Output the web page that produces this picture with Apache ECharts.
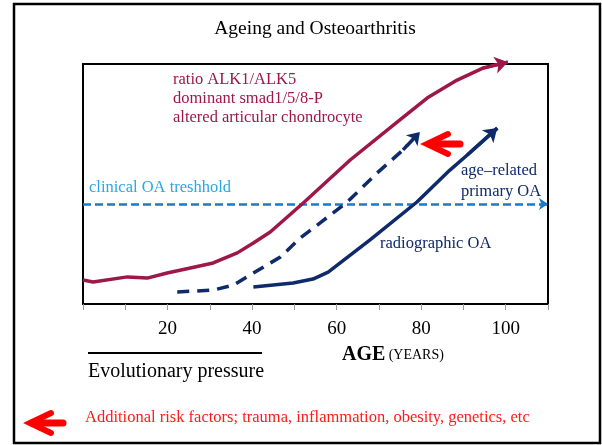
<!DOCTYPE html>
<html>
<head>
<meta charset="utf-8">
<script src="https://cdn.jsdelivr.net/npm/echarts@6/dist/echarts.min.js"></script>
<style>
html,body{margin:0;padding:0;background:#fff}
#chart{width:602px;height:445px}
</style>
</head>
<body>
<div id="chart"></div>
<script>

// data (age in years, level 0-100 of plot height)

const tickAges = [20,40,60,80,100]

const alkAge = [0,2.4,10.5,15.2,19.9,25.4,30.8,36.5,40.3,44.3,52.1,63.2,74.3,81.4,88.5,94.6,100.5]
const alkLevel = [10,9.2,11.3,10.8,12.9,15,17.1,21.3,25.4,30,42.1,60,75.8,85.8,93.3,98.3,100.8]

const earlyAge = [22.3,30.8,35.6,40.3,46.7,51.4,56.1,62.5,69.6,75.7,79.7]
const earlyLevel = [5,5.8,7.9,12.9,19.6,27.5,33.8,42.5,54.6,64.2,71.7]

const radioAge = [40.3,49.7,54.4,58,67.9,79,86.8,90.9,98]
const radioLevel = [7.1,8.75,10.4,13.3,26.7,42.5,55.8,62.1,73.3]

const thresholdAge = [0,110]
const thresholdLevel = [41.7,41.7]

const SERIF = "'Liberation Serif','Times New Roman',serif"
const MAROON = "#9E1749"
const NAVY = "#0E2A6A"
const THRESH = "#1E78C8"

function coords(xs, ys){
return xs.map((x,i) => [x, ys[i]])
}

// last two points of a curve, used to carry the arrow head
function lastSeg(xs, ys){
const n = xs.length
return [[xs[n-2],ys[n-2]],[xs[n-1],ys[n-1]]]
}

function curve(name, xs, ys, color, type){
return {
name:name,
type:"lines",
coordinateSystem:"cartesian2d",
polyline:true,
clip:false,
lineStyle:{color:color,width:3.5,type:type,opacity:1,join:"round",cap:"butt"},
data:[{coords:coords(xs,ys)}]
}
}

function head(xs, ys, color, size, type){
return {
type:"lines",
coordinateSystem:"cartesian2d",
clip:false,
symbol:["none","arrow"],
symbolSize:size,
lineStyle:{color:color,width:3.5,type:type,opacity:1,curveness:0},
data:[{coords:lastSeg(xs,ys)}]
}
}

const chart = echarts.init(document.getElementById("chart"))

/* red chevron arrow, drawn as annotation */
function chevron(x, y){
return {
type:"polyline",
shape:{points:[[x+21,y-10],[x,y],[x+21,y+10]]},
style:{stroke:"#ff0000",lineWidth:6,fill:null,lineCap:"round",lineJoin:"miter"},
z:10
}
}
function shaft(x, y){
return {
type:"line",
shape:{x1:x+2,y1:y,x2:x+33,y2:y},
style:{stroke:"#ff0000",lineWidth:7,lineCap:"round"},
z:10
}
}

chart.setOption({

animation:false,

grid:{
left:83,top:64,right:54,bottom:141,
show:true,borderColor:"#000",borderWidth:2
},

xAxis:{
type:"value",
min:0,max:110,interval:10,
axisLine:{show:true,lineStyle:{color:"#000",width:2}},
axisTick:{show:true,length:6,lineStyle:{color:"#999",width:1}},
splitLine:{show:false},
axisLabel:{
margin:16,
fontFamily:SERIF,fontSize:19,color:"#000",
formatter:v => tickAges.includes(v) ? String(v) : ""
}
},

yAxis:{
type:"value",min:0,max:100,
show:false,
splitLine:{show:false}
},

series:[
{
name:"threshold",
type:"lines",
coordinateSystem:"cartesian2d",
clip:false,
symbol:["none","arrow"],
symbolSize:9,
lineStyle:{color:THRESH,width:2.5,type:[8,4],opacity:1},
data:[{coords:coords(thresholdAge,thresholdLevel)}]
},
curve("ALK1/ALK5", alkAge, alkLevel, MAROON, "solid"),
head(alkAge, alkLevel, MAROON, 13, "solid"),
curve("age-related primary OA", earlyAge, earlyLevel, NAVY, [12,8]),
head(earlyAge, earlyLevel, NAVY, 12, [6,10]),
curve("radiographic OA", radioAge, radioLevel, NAVY, "solid"),
head(radioAge, radioLevel, NAVY, 13, "solid")
],

graphic:[
{
type:"rect",
shape:{x:14,y:4,width:586,height:439},
style:{stroke:"#000",lineWidth:2.5,fill:null},
z:-1
},
{
type:"text",x:315,y:29,
style:{text:"Ageing and Osteoarthritis",font:"19.5px "+SERIF,fill:"#000",align:"center",verticalAlign:"middle"}
},
{
type:"text",x:173,y:80,
style:{text:"ratio ALK1/ALK5",font:"16.5px "+SERIF,fill:MAROON,verticalAlign:"middle"}
},
{
type:"text",x:173,y:99,
style:{text:"dominant smad1/5/8-P",font:"16.5px "+SERIF,fill:MAROON,verticalAlign:"middle"}
},
{
type:"text",x:173,y:118,
style:{text:"altered articular chondrocyte",font:"16.5px "+SERIF,fill:MAROON,verticalAlign:"middle"}
},
{
type:"text",x:89,y:188,
style:{text:"clinical OA treshhold",font:"16.5px "+SERIF,fill:"#27A7E3",verticalAlign:"middle"}
},
{
type:"text",x:461,y:171,
style:{text:"age\u2013related",font:"16.5px "+SERIF,fill:NAVY,verticalAlign:"middle"}
},
{
type:"text",x:461,y:192,
style:{text:"primary OA",font:"16.5px "+SERIF,fill:NAVY,verticalAlign:"middle"}
},
{
type:"text",x:380,y:244,
style:{text:"radiographic OA",font:"16.5px "+SERIF,fill:NAVY,verticalAlign:"middle"}
},
{
type:"text",x:342,y:355,
style:{
text:"{a|AGE} {b|(YEARS)}",
verticalAlign:"middle",
rich:{
a:{font:"bold 20px "+SERIF,fill:"#000"},
b:{font:"14px "+SERIF,fill:"#000"}
}
}
},
{
type:"line",
shape:{x1:88,y1:353,x2:262,y2:353},
style:{stroke:"#000",lineWidth:2}
},
{
type:"text",x:88,y:372,
style:{text:"Evolutionary pressure",font:"20px "+SERIF,fill:"#000",verticalAlign:"middle"}
},
{
type:"text",x:85,y:418,
style:{text:"Additional risk factors; trauma, inflammation, obesity, genetics, etc",font:"16.5px "+SERIF,fill:"#ff1a1a",verticalAlign:"middle"}
},
chevron(427,144),
shaft(427,144),
chevron(30,423),
shaft(30,423)
]

})

</script>
</body>
</html>
